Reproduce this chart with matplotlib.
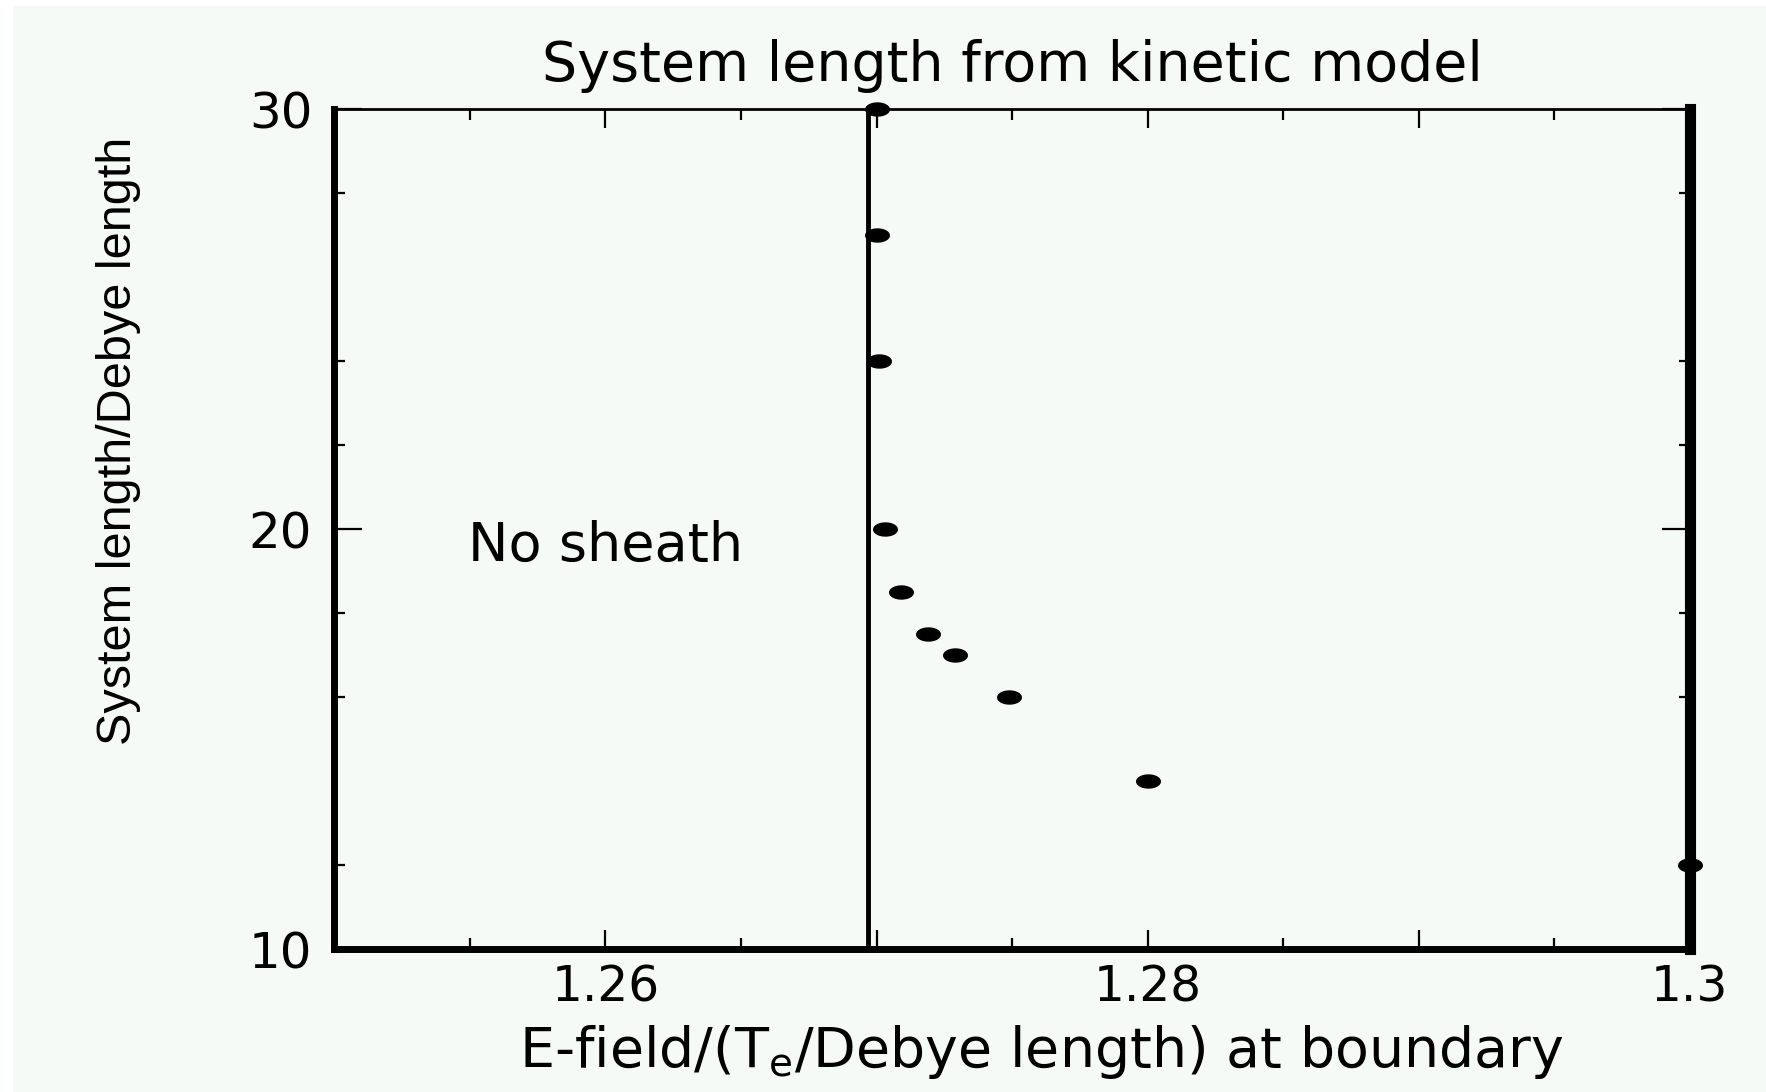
import matplotlib
matplotlib.use("Agg")
import matplotlib.pyplot as plt
from matplotlib.patches import Rectangle
import numpy as np

# data
efield = [1.2700, 1.2700, 1.2701, 1.2703, 1.2709, 1.2719, 1.2729, 1.2749, 1.2800, 1.3000]
length = [30.0, 27.0, 24.0, 20.0, 18.5, 17.5, 17.0, 16.0, 14.0, 12.0]
no_sheath_edge = 1.2697

xticks = [1.25, 1.26, 1.27, 1.28, 1.29, 1.30]
xticklabels = ['', '1.26', '', '1.28', '', '1.3']
xminor = [1.255, 1.265, 1.275, 1.285, 1.295]
yticks = [10, 20, 30]
yminor = [12, 16, 18, 22, 24, 28]

bg = '#f5faf7'
plt.rcParams['font.family'] = 'DejaVu Sans'
plt.rcParams['mathtext.default'] = 'regular'

fig = plt.figure(figsize=(17.66, 10.92), dpi=100)
fig.patch.set_facecolor('white')
fig.add_artist(Rectangle((0.0076, 0), 1, 0.9945, transform=fig.transFigure,
                         facecolor=bg, edgecolor='none', zorder=-10))

ax = fig.add_axes([0.1894, 0.1306, 0.7673, 0.7694])
ax.set_facecolor(bg)

# elliptical marker (the reference is stretched horizontally)
th = np.linspace(0, 2 * np.pi, 40)
ell = list(zip(np.cos(th), 0.55 * np.sin(th)))
ax.plot(efield, length, linestyle='none', marker=ell, markersize=17,
        color='black', clip_on=False, zorder=5)

ax.axvline(no_sheath_edge, color='black', lw=3.5)
ax.text(1.26, 19.6, 'No sheath', fontsize=39, ha='center', va='center')

ax.set_xlim(1.25, 1.3)
ax.set_ylim(10, 30)
ax.set_xticks(xticks)
ax.set_xticklabels(xticklabels)
ax.set_xticks(xminor, minor=True)
ax.set_yticks(yticks)
ax.set_yticks(yminor, minor=True)

ax.tick_params(axis='both', which='both', direction='in', colors='black', width=1.6)
ax.tick_params(axis='x', which='both', top=True, bottom=True, labelsize=35, pad=10)
ax.tick_params(axis='x', which='major', length=14)
ax.tick_params(axis='x', which='minor', length=8)
ax.tick_params(axis='y', which='both', left=True, right=True, labelsize=36, pad=16)
ax.tick_params(axis='y', which='major', length=20)
ax.tick_params(axis='y', which='minor', length=8)

ax.spines['left'].set_linewidth(5)
ax.spines['bottom'].set_linewidth(5)
ax.spines['right'].set_linewidth(8)
ax.spines['top'].set_linewidth(2)

ax.set_title('System length from kinetic model', fontsize=40, pad=20)
ax.set_xlabel('E-field/(T$_e$/Debye length) at boundary', fontsize=40, va='center')
ax.xaxis.set_label_coords(0.522, -0.122)
ax.set_ylabel('System length/Debye length', fontsize=35, family='Liberation Sans')
ax.yaxis.set_label_coords(-0.143, 0.605)

fig.savefig('out.png', dpi=100, facecolor=fig.get_facecolor())
